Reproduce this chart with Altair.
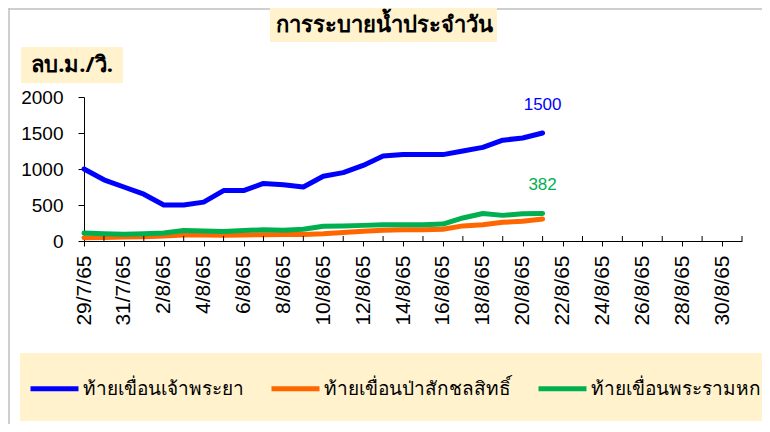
import altair as alt
import pandas as pd

# ---- data ----
dates = ["29/7/65", "30/7/65", "31/7/65", "1/8/65", "2/8/65", "3/8/65", "4/8/65", "5/8/65",
         "6/8/65", "7/8/65", "8/8/65", "9/8/65", "10/8/65", "11/8/65", "12/8/65", "13/8/65",
         "14/8/65", "15/8/65", "16/8/65", "17/8/65", "18/8/65", "19/8/65", "20/8/65", "21/8/65",
         "22/8/65", "23/8/65", "24/8/65", "25/8/65", "26/8/65", "27/8/65", "28/8/65", "29/8/65",
         "30/8/65", "31/8/65"]

series_names = ["ท้ายเขื่อนเจ้าพระยา", "ท้ายเขื่อนป่าสักชลสิทธิ์", "ท้ายเขื่อนพระรามหก"]
series_colors = ["#0000FF", "#FF6600", "#00B050"]

chao_phraya = [1000, 850, 750, 650, 500, 500, 540, 700, 700, 800, 780, 750,
               900, 950, 1050, 1180, 1200, 1200, 1200, 1250, 1300, 1400, 1430, 1500]
pasak = [45, 50, 55, 60, 70, 85, 85, 80, 85, 88, 90, 90,
         100, 118, 137, 150, 157, 157, 162, 210, 225, 260, 273, 305]
rama6 = [110, 100, 95, 100, 110, 145, 140, 132, 145, 155, 150, 162,
         204, 208, 217, 226, 227, 227, 235, 320, 382, 356, 380, 382]

y_ticks = [0, 500, 1000, 1500, 2000]

title_text = "การระบายน้ำประจำวัน"
unit_text = "ลบ.ม./วิ."

rows = []
for name, vals in zip(series_names, [chao_phraya, pasak, rama6]):
    for d, v in zip(dates, vals):
        rows.append({"date": d, "value": v, "series": name})
df = pd.DataFrame(rows)

last = pd.DataFrame([
    {"date": dates[len(chao_phraya) - 1], "value": chao_phraya[-1], "series": series_names[0]},
    {"date": dates[len(rama6) - 1], "value": rama6[-1], "series": series_names[2]},
])

major_dates = dates[0::2]
minor_dates = pd.DataFrame({"date": dates[1::2]})

W, H = 658, 144
THAI = "Noto Sans, sans-serif"
NUM = "Liberation Sans, Arial, sans-serif"

x_scale = alt.Scale(type="point", domain=dates, padding=0)
y_scale = alt.Scale(domain=[0, 2000])
color_scale = alt.Scale(domain=series_names, range=series_colors)

x_axis = alt.Axis(values=major_dates, labelAngle=-90, labelFontSize=21, labelFont=NUM,
                  labelColor="black", tickColor="black", domainColor="black",
                  tickSize=5, labelPadding=9, title=None, grid=False, labelOverlap=False)
y_axis = alt.Axis(values=y_ticks, format="d", labelFontSize=19, labelFont=NUM,
                  labelColor="black", tickColor="black", domainColor="black",
                  tickSize=6, labelPadding=15, title=None, grid=False,
                  labelOverlap=False, labelFlush=False)

deco = pd.DataFrame({"k": [0]})

border_left = alt.Chart(deco).mark_rule(color="#BFBFBF", strokeWidth=1.5).encode(
    x=alt.value(-75), y=alt.value(-89), y2=alt.value(330))
border_top = alt.Chart(deco).mark_rule(color="#BFBFBF", strokeWidth=1.5).encode(
    x=alt.value(-75), x2=alt.value(700), y=alt.value(-88))

title_bg = alt.Chart(deco).mark_rect(fill="#FFF2CC").encode(
    x=alt.value(186), x2=alt.value(413), y=alt.value(-92), y2=alt.value(-55))
title_txt = alt.Chart(deco).mark_text(text=title_text, font=THAI, fontSize=22, fontWeight="bold",
                                      color="black", align="center", baseline="middle").encode(
    x=alt.value(300), y=alt.value(-72))

unit_bg = alt.Chart(deco).mark_rect(fill="#FFF2CC").encode(
    x=alt.value(-63), x2=alt.value(39), y=alt.value(-50), y2=alt.value(-14))
unit_txt = alt.Chart(deco).mark_text(text=unit_text, font=THAI, fontSize=22, fontWeight="bold",
                                     color="black", align="center", baseline="middle").encode(
    x=alt.value(-12), y=alt.value(-32))

legend_bg = alt.Chart(deco).mark_rect(fill="#FFF2CC").encode(
    x=alt.value(-64), x2=alt.value(720), y=alt.value(256), y2=alt.value(324))

lines = alt.Chart(df).mark_line(strokeWidth=5, strokeJoin="round", strokeCap="round").encode(
    x=alt.X("date:N", scale=x_scale, sort=dates, axis=x_axis),
    y=alt.Y("value:Q", scale=y_scale, axis=y_axis),
    color=alt.Color("series:N", scale=color_scale, sort=series_names,
                    legend=alt.Legend(title=None, orient="none", legendX=-56, legendY=265,
                                      direction="horizontal", symbolType="stroke",
                                      symbolStrokeWidth=5, symbolSize=2304,
                                      labelFont=THAI, labelFontSize=19, labelColor="black",
                                      labelLimit=400, labelOffset=2, columnPadding=17)),
    detail="series:N",
)

minor_ticks = alt.Chart(minor_dates).mark_rule(color="black", strokeWidth=1).encode(
    x=alt.X("date:N", scale=x_scale, sort=dates, axis=x_axis),
    y=alt.value(H), y2=alt.value(H - 5))

labels = alt.Chart(last).mark_text(dy=-28, fontSize=17, font=NUM, align="center").encode(
    x=alt.X("date:N", scale=x_scale, sort=dates, axis=x_axis),
    y=alt.Y("value:Q", scale=y_scale, axis=y_axis),
    text=alt.Text("value:Q"),
    color=alt.Color("series:N", scale=color_scale, legend=None),
)

chart = alt.layer(border_left, border_top, title_bg, title_txt, unit_bg, unit_txt, legend_bg,
                  lines, minor_ticks, labels).properties(
    width=W, height=H,
    background="white",
    autosize=alt.AutoSizeParams(type="none"),
    padding={"left": 76, "top": 89, "right": 20, "bottom": 183},
).configure_view(stroke=None)

chart.save("out.html", embed_options={"renderer": "svg", "actions": False})
